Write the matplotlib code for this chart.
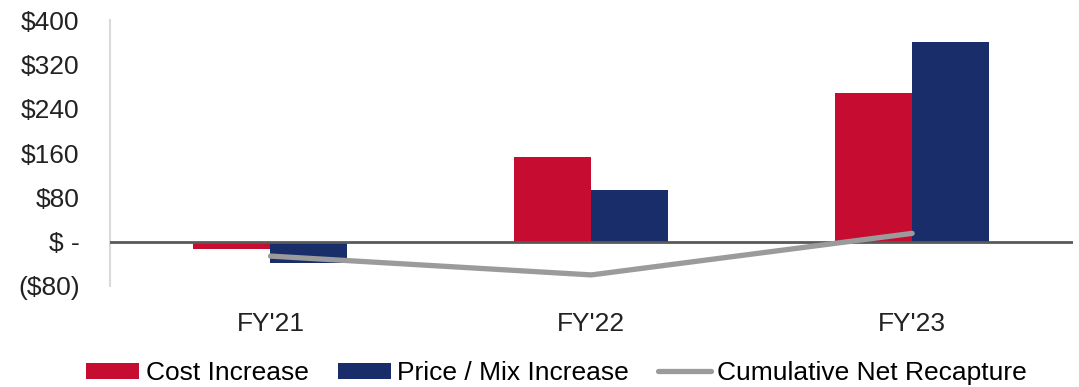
import matplotlib.pyplot as plt
import numpy as np

plt.rcParams['font.family'] = ['Liberation Sans', 'DejaVu Sans']

years = ["FY'21", "FY'22", "FY'23"]
cost_increase = [-13, 153, 269]
price_mix_increase = [-38, 93, 360]
cumulative_net_recapture = [-26, -60, 15]

y_ticks = [-80, 0, 80, 160, 240, 320, 400]
y_tick_labels = ['($80)', '$ -', '$80', '$160', '$240', '$320', '$400']

red = '#C60C30'
navy = '#1A2D6B'
gray = '#9B9B9B'

fig = plt.figure(figsize=(10.79, 3.87), dpi=100)
ax = fig.add_axes([0.102, 0.261, 0.892, 0.687])

x = np.arange(len(years))
w = 0.24
b1 = ax.bar(x - w / 2, cost_increase, width=w, color=red, label='Cost Increase', zorder=2)
b2 = ax.bar(x + w / 2, price_mix_increase, width=w, color=navy, label='Price / Mix Increase', zorder=2)
ax.axhline(0, color='#595959', lw=2, zorder=3)
l1, = ax.plot(x, cumulative_net_recapture, color=gray, lw=3.8, solid_capstyle='round',
              label='Cumulative Net Recapture', zorder=4)

ax.set_xlim(-0.5, 2.5)
ax.set_ylim(-80, 400)
ax.set_xticks(x)
ax.set_xticklabels(years)
ax.set_yticks(y_ticks)
ax.set_yticklabels(y_tick_labels)
ax.tick_params(axis='both', length=0, labelsize=19, colors='#222222')
ax.tick_params(axis='y', pad=22)
ax.tick_params(axis='x', pad=19)

for side in ['top', 'right', 'bottom']:
    ax.spines[side].set_visible(False)
ax.spines['left'].set_color('#D9D9D9')
ax.spines['left'].set_linewidth(1.5)

fig.legend([b1, b2, l1], ['Cost Increase', 'Price / Mix Increase', 'Cumulative Net Recapture'],
           loc='center', bbox_to_anchor=(0.516, 0.036), ncol=3, frameon=False,
           fontsize=19, handlelength=2.0, handletextpad=0.25, columnspacing=1.1,
           handleheight=0.55, borderaxespad=0)

fig.savefig('out.png', dpi=100)
